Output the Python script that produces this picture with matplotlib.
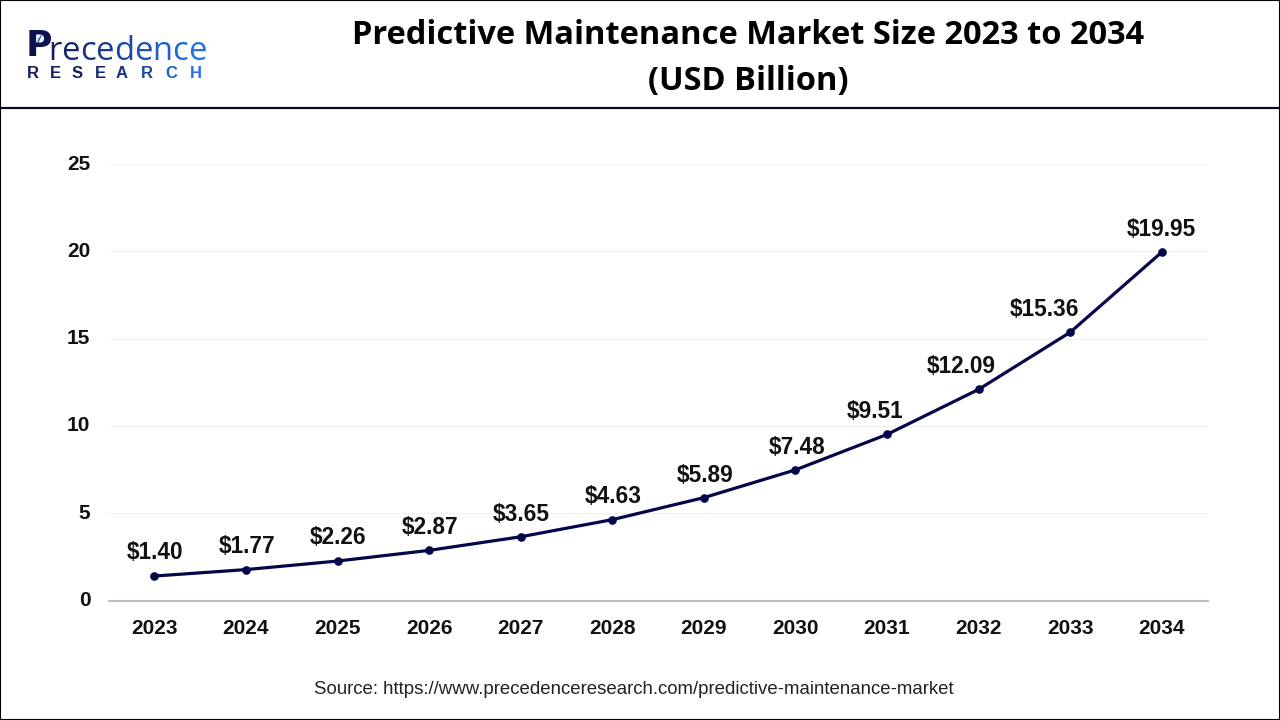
import matplotlib
matplotlib.use('Agg')
import matplotlib.pyplot as plt
from matplotlib.patches import Rectangle, Polygon

years = ['2023','2024','2025','2026','2027','2028','2029','2030','2031','2032','2033','2034']
values = [1.40,1.77,2.26,2.87,3.65,4.63,5.89,7.48,9.51,12.09,15.36,19.95]
labels = ['$%.2f' % v for v in values]
yticks = [0,5,10,15,20,25]
# label offsets from each point, in pixels (right, up)
label_dx = [1,1,1,1,1,1,1,2,-12,-17,-26,0]
label_dy = [12,12,12,11,11,12,11,11,11,11,11,11]
navy = '#06064A'

plt.rcParams['font.family'] = ['Liberation Sans', 'DejaVu Sans']
fig = plt.figure(figsize=(12.8,7.2), dpi=100)
W,H = 1280,720
ax = fig.add_axes([109/W, 1-600.5/H, (1208-109)/W, (600.5-164)/H])
x = list(range(12))
ax.plot(x, values, color=navy, lw=2.3, marker='o', ms=5.2, zorder=3)
ax.set_xlim(-0.495,11.505)
ax.set_ylim(0,25)
ax.set_yticks(yticks)
ax.set_xticks(x)
ax.set_xticklabels(years)
ax.tick_params(length=0, labelsize=15)
ax.tick_params(axis='x', pad=13.4)
ax.tick_params(axis='y', pad=13.5)
for t in ax.get_xticklabels()+ax.get_yticklabels():
    t.set_fontweight('bold'); t.set_color('#111111')
for t in ax.get_yticklabels():
    t.set_verticalalignment('center')
ax.grid(axis='y', color='#F0F0F0', lw=0.8)
ax.set_axisbelow(True)
for s in ['top','left','right']:
    ax.spines[s].set_visible(False)
ax.spines['bottom'].set_color('#BFBFBF')
ax.spines['bottom'].set_linewidth(1.5)
for xi,v,l,dx,dy in zip(x,values,labels,label_dx,label_dy):
    ax.annotate(l,(xi,v),xytext=(dx*0.72,dy*0.72),textcoords='offset points',ha='center',va='bottom',
                fontsize=16.3,fontweight='bold',color='#111111')

title_font = ['Open Sans','DejaVu Sans']
fig.text(748/W,1-35.5/H,'Predictive Maintenance Market Size 2023 to 2034',ha='center',va='center',fontsize=23.5,fontweight='bold',family=title_font,color='black')
fig.text(748/W,1-81.5/H,'(USD Billion)',ha='center',va='center',fontsize=23.5,fontweight='bold',family=title_font,color='black')
fig.text(633.5/W,1-690/H,'Source: https://www.precedenceresearch.com/predictive-maintenance-market',ha='center',va='center',fontsize=13.4,color='#222222')
fig.add_artist(plt.Line2D([0,1],[1-107.5/H]*2,color='#0A0A2A',lw=1.6))
fig.add_artist(Rectangle((0,0),1,1,transform=fig.transFigure,fill=False,ec='black',lw=1.5))

# logo
logo_word = 'recedence'
logo_word_colors = ['#12205F','#14296E','#16327E','#183C8E','#1A479F','#1C52B2','#1E5EC6','#2069D8','#2272E6']
renderer = fig.canvas.get_renderer()
px = 48.0
for ch,c in zip(logo_word,logo_word_colors):
    t = fig.text(px/W,1-60/H,ch,fontsize=23.6,color=c,va='baseline',ha='left',family='Open Sans')
    px += t.get_window_extent(renderer).width
fig.text(26/W,1-56/H,'P',fontsize=26,fontweight='bold',color='#0B1450',va='baseline',ha='left',family='DejaVu Sans')
fig.add_artist(Polygon([(23/W,1-39/H),(44/W,1-31/H),(36/W,1-48/H),(34/W,1-41/H)],closed=True,transform=fig.transFigure,fc='white',ec='white',lw=0.5))
fig.add_artist(Polygon([(44/W,1-31/H),(38/W,1-39/H),(36/W,1-48/H)],closed=True,transform=fig.transFigure,fc='#1F6FE0',ec='none'))
logo_sub = 'RESEARCH'
logo_sub_x = [27,50,72,95,116,141,165,190]
logo_sub_colors = ['#12205F','#12205F','#12205F','#14296E','#16327E','#1A479F','#1E5EC6','#2272E6']
for ch,lx,c in zip(logo_sub,logo_sub_x,logo_sub_colors):
    fig.text(lx/W,1-77.5/H,ch,fontsize=12,fontweight='bold',color=c,va='baseline',ha='left')
fig.savefig('out.png',dpi=100)
